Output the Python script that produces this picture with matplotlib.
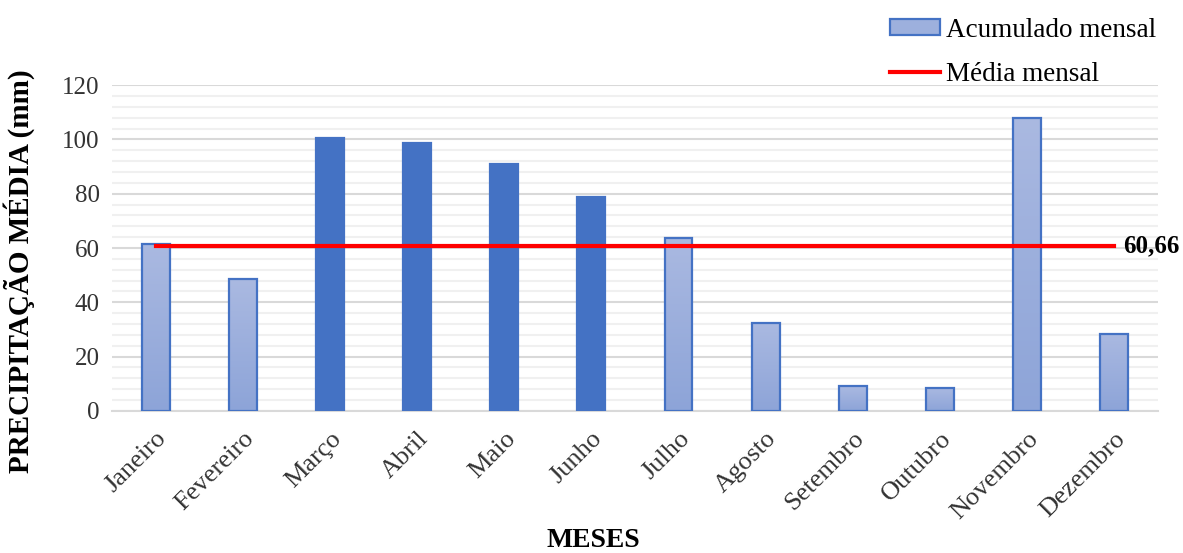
import numpy as np
import matplotlib

matplotlib.use("Agg")
from matplotlib import pyplot as plt
from matplotlib.colors import LinearSegmentedColormap
from matplotlib.lines import Line2D
from matplotlib.patches import Patch
from matplotlib.ticker import MultipleLocator

MESES = ["Janeiro", "Fevereiro", "Março", "Abril", "Maio", "Junho",
         "Julho", "Agosto", "Setembro", "Outubro", "Novembro", "Dezembro"]
ACUMULADO = [61.5, 48.5, 100.7, 98.8, 90.8, 78.8, 63.7, 32.4, 9.2, 8.6, 107.8, 28.5]
# meses em destaque (estação chuvosa)
DESTAQUE = [False, False, True, True, True, True, False, False, False, False, False, False]
MEDIA_MENSAL = 60.66

EDGE = "#4472C4"
DARK = "#4472C4"
GRAD = LinearSegmentedColormap.from_list("grad", ["#8DA4D8", "#AAB9E1"])

plt.rcParams.update({
    "font.family": ["Liberation Serif", "DejaVu Serif"],
    "font.size": 17,
})

fig = plt.figure(figsize=(11.83, 5.53), dpi=100)
ax = fig.add_axes([0.0947, 0.257, 0.884, 0.589])

x = np.arange(len(MESES))
bars = ax.bar(x, ACUMULADO, width=0.32, color="none", edgecolor=EDGE,
              linewidth=1.6, zorder=4)
gradient = np.linspace(0, 1, 256).reshape(-1, 1)
for bar, dest in zip(bars, DESTAQUE):
    if dest:
        bar.set_facecolor(DARK)
        continue
    bx, bw, bh = bar.get_x(), bar.get_width(), bar.get_height()
    img = ax.imshow(gradient, cmap=GRAD, origin="lower", aspect="auto",
                    extent=(bx, bx + bw, 0, bh), zorder=3)
    img.set_clip_path(bar)

ax.plot([x[0], x[-1]], [MEDIA_MENSAL, MEDIA_MENSAL], color="#FF0000",
        linewidth=3, zorder=5)
ax.text(x[-1] + 0.1, MEDIA_MENSAL, f"{MEDIA_MENSAL:.2f}".replace(".", ","),
        fontsize=18, fontweight="bold", va="center", ha="left", zorder=6)

ax.set_xlim(-0.5, len(MESES) - 0.5)
ax.set_ylim(0, 120)
ax.yaxis.set_major_locator(MultipleLocator(20))
ax.yaxis.set_minor_locator(MultipleLocator(4))
ax.grid(axis="y", which="major", color="#D9D9D9", linewidth=1.5, zorder=0)
ax.grid(axis="y", which="minor", color="#F0F0F0", linewidth=1.5, zorder=0)
for side in ("top", "right", "left"):
    ax.spines[side].set_visible(False)
ax.spines["bottom"].set_color("#D9D9D9")
ax.spines["bottom"].set_linewidth(1.5)
ax.tick_params(axis="both", which="both", length=0, labelsize=18, colors="#333333")
ax.tick_params(axis="x", labelsize=19, pad=12)
ax.tick_params(axis="y", pad=9)

ax.set_xticks(x)
ax.set_xticklabels(MESES, rotation=45, ha="right", rotation_mode="anchor")

ax.set_ylabel("PRECIPITAÇÃO MÉDIA (mm)", fontsize=21, fontweight="bold")
ax.yaxis.set_label_coords(-0.0735, 0.43)
ax.set_xlabel("MESES", fontsize=20, fontweight="bold")
ax.xaxis.set_label_coords(0.46, -0.36)

handles = [
    Patch(facecolor="#9DB0DD", edgecolor=EDGE, linewidth=1.6),
    Line2D([0], [0], color="#FF0000", linewidth=3),
]
fig.legend(handles, ["Acumulado mensal", "Média mensal"], loc="upper left",
           bbox_to_anchor=(0.732, 1.012), frameon=False, fontsize=19.5,
           handlelength=1.85, handleheight=0.5, labelspacing=0.7, handletextpad=0.2)

fig.savefig("out.png", dpi=100, facecolor="white")
